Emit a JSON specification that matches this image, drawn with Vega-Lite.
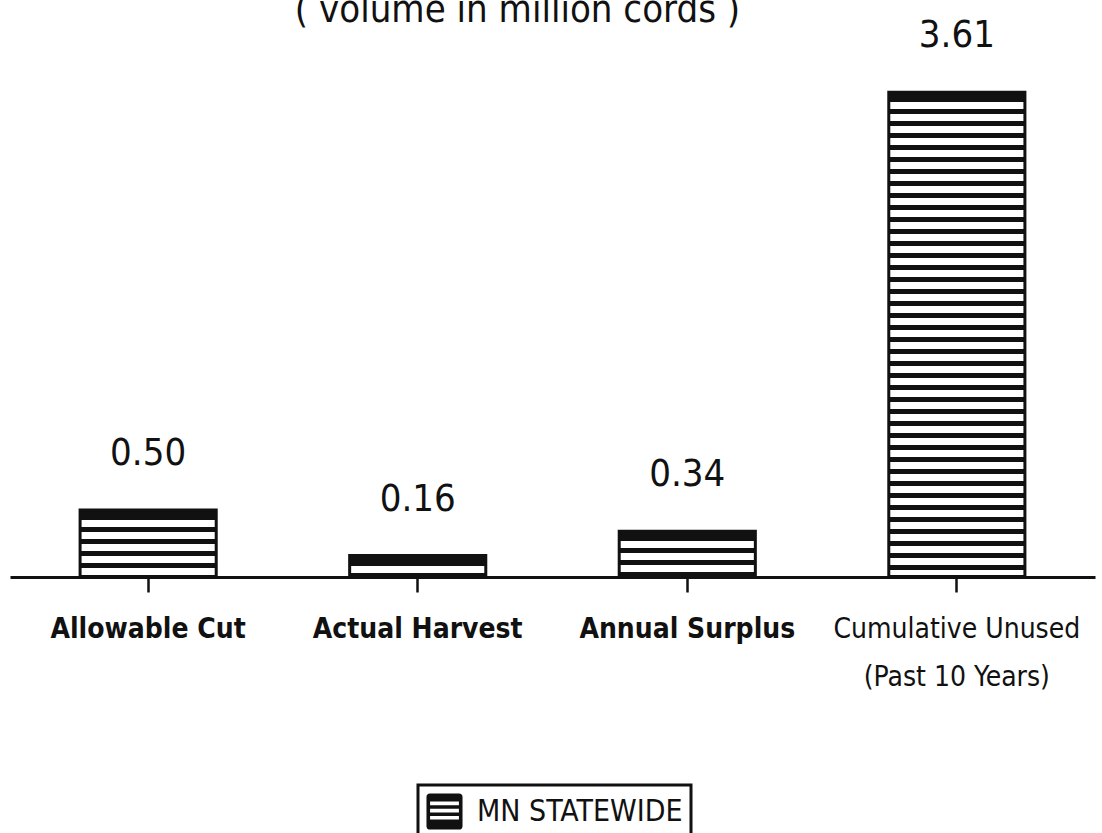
{
  "$schema": "https://vega.github.io/schema/vega-lite/v6.json",
  "width": 1085,
  "height": 537,
  "autosize": "none",
  "padding": {"left": 10, "top": 40, "right": 7, "bottom": 256},
  "background": "white",
  "config": {"view": {"stroke": null}, "legend": {"strokeWidth": 3}},
  "title": {"text": "( volume in million cords )", "font": "DejaVu Sans Condensed, DejaVu Sans, sans-serif", "fontSize": 38, "fontWeight": "normal", "color": "#111111", "baseline": "alphabetic", "offset": 0, "dy": 43, "dx": -35, "frame": "group"},
  "data": {"values": [
    {"category": "Allowable Cut", "volume": 0.50, "label": "0.50", "region": "MN STATEWIDE"},
    {"category": "Actual Harvest", "volume": 0.16, "label": "0.16", "region": "MN STATEWIDE"},
    {"category": "Annual Surplus", "volume": 0.34, "label": "0.34", "region": "MN STATEWIDE"},
    {"category": "Cumulative Unused (Past 10 Years)", "volume": 3.61, "label": "3.61", "region": "MN STATEWIDE"}
  ]},
  "layer": [
    {
      "mark": {"type": "bar", "stroke": "#111111", "strokeWidth": 3},
      "encoding": {
        "x": {"field": "category", "type": "nominal", "sort": null,
          "scale": {"paddingInner": 0.495, "paddingOuter": 0.26},
          "axis": {"title": null, "domainColor": "#111111", "domainWidth": 3, "tickColor": "#111111", "tickWidth": 2.5, "tickSize": 15,
            "labelAngle": 0, "labelFont": "DejaVu Sans Condensed, DejaVu Sans, sans-serif", "labelFontSize": 28, "labelColor": "#111111",
            "labelFontWeight": {"condition": {"test": "datum.value == 'Cumulative Unused (Past 10 Years)'", "value": "normal"}, "value": "bold"},
            "labelPadding": 23, "labelLineHeight": 48, "labelLimit": 0,
            "labelExpr": "datum.value == 'Cumulative Unused (Past 10 Years)' ? ['Cumulative Unused', '(Past 10 Years)'] : datum.label"}},
        "y": {"field": "volume", "type": "quantitative", "scale": {"domain": [0, 4]}, "axis": null},
        "fill": {
          "condition": [
            {"test": "datum.category == 'Allowable Cut'", "value": {"gradient": "linear", "x1": 0, "y1": 0, "x2": 0, "y2": 1, "stops": [
              {"offset": 0, "color": "#111111"},
              {"offset": 0.149, "color": "#111111"}, {"offset": 0.149, "color": "#ffffff"}, {"offset": 0.2534, "color": "#ffffff"}, {"offset": 0.2534, "color": "#111111"},
              {"offset": 0.3279, "color": "#111111"}, {"offset": 0.3279, "color": "#ffffff"}, {"offset": 0.4322, "color": "#ffffff"}, {"offset": 0.4322, "color": "#111111"},
              {"offset": 0.5067, "color": "#111111"}, {"offset": 0.5067, "color": "#ffffff"}, {"offset": 0.611, "color": "#ffffff"}, {"offset": 0.611, "color": "#111111"},
              {"offset": 0.6855, "color": "#111111"}, {"offset": 0.6855, "color": "#ffffff"}, {"offset": 0.7899, "color": "#ffffff"}, {"offset": 0.7899, "color": "#111111"},
              {"offset": 0.8644, "color": "#111111"}, {"offset": 0.8644, "color": "#ffffff"}, {"offset": 0.9687, "color": "#ffffff"}, {"offset": 0.9687, "color": "#111111"},
              {"offset": 1, "color": "#111111"}]}},
            {"test": "datum.category == 'Actual Harvest'", "value": {"gradient": "linear", "x1": 0, "y1": 0, "x2": 0, "y2": 1, "stops": [
              {"offset": 0, "color": "#111111"},
              {"offset": 0.4651, "color": "#111111"}, {"offset": 0.4651, "color": "#ffffff"}, {"offset": 0.7907, "color": "#ffffff"}, {"offset": 0.7907, "color": "#111111"},
              {"offset": 1, "color": "#111111"}]}},
            {"test": "datum.category == 'Annual Surplus'", "value": {"gradient": "linear", "x1": 0, "y1": 0, "x2": 0, "y2": 1, "stops": [
              {"offset": 0, "color": "#111111"},
              {"offset": 0.2193, "color": "#111111"}, {"offset": 0.2193, "color": "#ffffff"}, {"offset": 0.3728, "color": "#ffffff"}, {"offset": 0.3728, "color": "#111111"},
              {"offset": 0.4825, "color": "#111111"}, {"offset": 0.4825, "color": "#ffffff"}, {"offset": 0.636, "color": "#ffffff"}, {"offset": 0.636, "color": "#111111"},
              {"offset": 0.7456, "color": "#111111"}, {"offset": 0.7456, "color": "#ffffff"}, {"offset": 0.8991, "color": "#ffffff"}, {"offset": 0.8991, "color": "#111111"},
              {"offset": 1, "color": "#111111"}]}}
          ],
          "value": {"gradient": "linear", "x1": 0, "y1": 0, "x2": 0, "y2": 1, "stops": [
            {"offset": 0, "color": "#111111"},
            {"offset": 0.02064, "color": "#111111"}, {"offset": 0.02064, "color": "#ffffff"}, {"offset": 0.03508, "color": "#ffffff"}, {"offset": 0.03508, "color": "#111111"},
            {"offset": 0.0454, "color": "#111111"}, {"offset": 0.0454, "color": "#ffffff"}, {"offset": 0.05984, "color": "#ffffff"}, {"offset": 0.05984, "color": "#111111"},
            {"offset": 0.07016, "color": "#111111"}, {"offset": 0.07016, "color": "#ffffff"}, {"offset": 0.08461, "color": "#ffffff"}, {"offset": 0.08461, "color": "#111111"},
            {"offset": 0.09493, "color": "#111111"}, {"offset": 0.09493, "color": "#ffffff"}, {"offset": 0.10937, "color": "#ffffff"}, {"offset": 0.10937, "color": "#111111"},
            {"offset": 0.11969, "color": "#111111"}, {"offset": 0.11969, "color": "#ffffff"}, {"offset": 0.13413, "color": "#ffffff"}, {"offset": 0.13413, "color": "#111111"},
            {"offset": 0.14445, "color": "#111111"}, {"offset": 0.14445, "color": "#ffffff"}, {"offset": 0.1589, "color": "#ffffff"}, {"offset": 0.1589, "color": "#111111"},
            {"offset": 0.16922, "color": "#111111"}, {"offset": 0.16922, "color": "#ffffff"}, {"offset": 0.18366, "color": "#ffffff"}, {"offset": 0.18366, "color": "#111111"},
            {"offset": 0.19398, "color": "#111111"}, {"offset": 0.19398, "color": "#ffffff"}, {"offset": 0.20842, "color": "#ffffff"}, {"offset": 0.20842, "color": "#111111"},
            {"offset": 0.21874, "color": "#111111"}, {"offset": 0.21874, "color": "#ffffff"}, {"offset": 0.23319, "color": "#ffffff"}, {"offset": 0.23319, "color": "#111111"},
            {"offset": 0.2435, "color": "#111111"}, {"offset": 0.2435, "color": "#ffffff"}, {"offset": 0.25795, "color": "#ffffff"}, {"offset": 0.25795, "color": "#111111"},
            {"offset": 0.26827, "color": "#111111"}, {"offset": 0.26827, "color": "#ffffff"}, {"offset": 0.28271, "color": "#ffffff"}, {"offset": 0.28271, "color": "#111111"},
            {"offset": 0.29303, "color": "#111111"}, {"offset": 0.29303, "color": "#ffffff"}, {"offset": 0.30747, "color": "#ffffff"}, {"offset": 0.30747, "color": "#111111"},
            {"offset": 0.31779, "color": "#111111"}, {"offset": 0.31779, "color": "#ffffff"}, {"offset": 0.33224, "color": "#ffffff"}, {"offset": 0.33224, "color": "#111111"},
            {"offset": 0.34256, "color": "#111111"}, {"offset": 0.34256, "color": "#ffffff"}, {"offset": 0.357, "color": "#ffffff"}, {"offset": 0.357, "color": "#111111"},
            {"offset": 0.36732, "color": "#111111"}, {"offset": 0.36732, "color": "#ffffff"}, {"offset": 0.38176, "color": "#ffffff"}, {"offset": 0.38176, "color": "#111111"},
            {"offset": 0.39208, "color": "#111111"}, {"offset": 0.39208, "color": "#ffffff"}, {"offset": 0.40653, "color": "#ffffff"}, {"offset": 0.40653, "color": "#111111"},
            {"offset": 0.41684, "color": "#111111"}, {"offset": 0.41684, "color": "#ffffff"}, {"offset": 0.43129, "color": "#ffffff"}, {"offset": 0.43129, "color": "#111111"},
            {"offset": 0.44161, "color": "#111111"}, {"offset": 0.44161, "color": "#ffffff"}, {"offset": 0.45605, "color": "#ffffff"}, {"offset": 0.45605, "color": "#111111"},
            {"offset": 0.46637, "color": "#111111"}, {"offset": 0.46637, "color": "#ffffff"}, {"offset": 0.48081, "color": "#ffffff"}, {"offset": 0.48081, "color": "#111111"},
            {"offset": 0.49113, "color": "#111111"}, {"offset": 0.49113, "color": "#ffffff"}, {"offset": 0.50558, "color": "#ffffff"}, {"offset": 0.50558, "color": "#111111"},
            {"offset": 0.51589, "color": "#111111"}, {"offset": 0.51589, "color": "#ffffff"}, {"offset": 0.53034, "color": "#ffffff"}, {"offset": 0.53034, "color": "#111111"},
            {"offset": 0.54066, "color": "#111111"}, {"offset": 0.54066, "color": "#ffffff"}, {"offset": 0.5551, "color": "#ffffff"}, {"offset": 0.5551, "color": "#111111"},
            {"offset": 0.56542, "color": "#111111"}, {"offset": 0.56542, "color": "#ffffff"}, {"offset": 0.57986, "color": "#ffffff"}, {"offset": 0.57986, "color": "#111111"},
            {"offset": 0.59018, "color": "#111111"}, {"offset": 0.59018, "color": "#ffffff"}, {"offset": 0.60463, "color": "#ffffff"}, {"offset": 0.60463, "color": "#111111"},
            {"offset": 0.61494, "color": "#111111"}, {"offset": 0.61494, "color": "#ffffff"}, {"offset": 0.62939, "color": "#ffffff"}, {"offset": 0.62939, "color": "#111111"},
            {"offset": 0.6397, "color": "#111111"}, {"offset": 0.6397, "color": "#ffffff"}, {"offset": 0.65415, "color": "#ffffff"}, {"offset": 0.65415, "color": "#111111"},
            {"offset": 0.66447, "color": "#111111"}, {"offset": 0.66447, "color": "#ffffff"}, {"offset": 0.67891, "color": "#ffffff"}, {"offset": 0.67891, "color": "#111111"},
            {"offset": 0.68923, "color": "#111111"}, {"offset": 0.68923, "color": "#ffffff"}, {"offset": 0.70367, "color": "#ffffff"}, {"offset": 0.70367, "color": "#111111"},
            {"offset": 0.71399, "color": "#111111"}, {"offset": 0.71399, "color": "#ffffff"}, {"offset": 0.72844, "color": "#ffffff"}, {"offset": 0.72844, "color": "#111111"},
            {"offset": 0.73875, "color": "#111111"}, {"offset": 0.73875, "color": "#ffffff"}, {"offset": 0.7532, "color": "#ffffff"}, {"offset": 0.7532, "color": "#111111"},
            {"offset": 0.76352, "color": "#111111"}, {"offset": 0.76352, "color": "#ffffff"}, {"offset": 0.77796, "color": "#ffffff"}, {"offset": 0.77796, "color": "#111111"},
            {"offset": 0.78828, "color": "#111111"}, {"offset": 0.78828, "color": "#ffffff"}, {"offset": 0.80272, "color": "#ffffff"}, {"offset": 0.80272, "color": "#111111"},
            {"offset": 0.81304, "color": "#111111"}, {"offset": 0.81304, "color": "#ffffff"}, {"offset": 0.82749, "color": "#ffffff"}, {"offset": 0.82749, "color": "#111111"},
            {"offset": 0.8378, "color": "#111111"}, {"offset": 0.8378, "color": "#ffffff"}, {"offset": 0.85225, "color": "#ffffff"}, {"offset": 0.85225, "color": "#111111"},
            {"offset": 0.86257, "color": "#111111"}, {"offset": 0.86257, "color": "#ffffff"}, {"offset": 0.87701, "color": "#ffffff"}, {"offset": 0.87701, "color": "#111111"},
            {"offset": 0.88733, "color": "#111111"}, {"offset": 0.88733, "color": "#ffffff"}, {"offset": 0.90177, "color": "#ffffff"}, {"offset": 0.90177, "color": "#111111"},
            {"offset": 0.91209, "color": "#111111"}, {"offset": 0.91209, "color": "#ffffff"}, {"offset": 0.92654, "color": "#ffffff"}, {"offset": 0.92654, "color": "#111111"},
            {"offset": 0.93685, "color": "#111111"}, {"offset": 0.93685, "color": "#ffffff"}, {"offset": 0.9513, "color": "#ffffff"}, {"offset": 0.9513, "color": "#111111"},
            {"offset": 0.96162, "color": "#111111"}, {"offset": 0.96162, "color": "#ffffff"}, {"offset": 0.97606, "color": "#ffffff"}, {"offset": 0.97606, "color": "#111111"},
            {"offset": 0.98638, "color": "#111111"}, {"offset": 0.98638, "color": "#ffffff"}, {"offset": 0.995, "color": "#ffffff"}, {"offset": 0.995, "color": "#111111"},
            {"offset": 1, "color": "#111111"}]}
        }
      }
    },
    {
      "mark": {"type": "text", "baseline": "alphabetic", "dy": -45, "font": "DejaVu Sans Condensed, DejaVu Sans, sans-serif", "fontSize": 38},
      "encoding": {
        "x": {"field": "category", "type": "nominal", "sort": null},
        "y": {"field": "volume", "type": "quantitative"},
        "text": {"field": "label"},
        "color": {"field": "region", "type": "nominal", "scale": {"range": ["#111111"]},
          "legend": {"orient": "none", "legendX": 408, "legendY": 745, "title": null, "direction": "horizontal",
            "symbolType": "M-1,-0.8Q-1,-1 -0.8,-1H0.8Q1,-1 1,-0.8V-0.55H-1Z M-1,-0.35H1V-0.15H-1Z M-1,0.05H1V0.25H-1Z M-1,0.45H1V0.8Q1,1 0.8,1H-0.8Q-1,1 -1,0.8Z M-1,-0.6H-0.8V0.6H-1Z M0.8,-0.6H1V0.6H0.8Z",
            "symbolSize": 1300, "symbolStrokeWidth": 0, "symbolFillColor": "#111111", "symbolOpacity": 1,
            "labelFont": "DejaVu Sans Condensed, DejaVu Sans, sans-serif", "labelFontSize": 30, "labelColor": "#111111", "labelOffset": 14, "labelLimit": 0,
            "strokeColor": "#111111", "padding": 8}}
      }
    }
  ]
}
